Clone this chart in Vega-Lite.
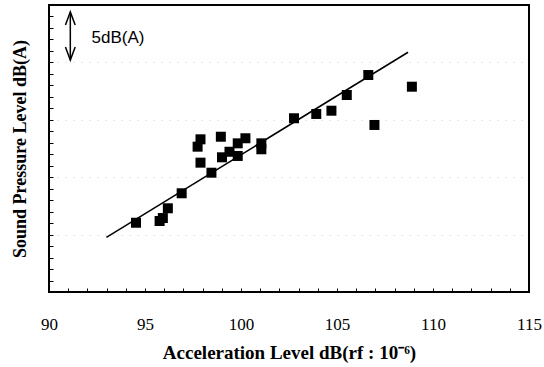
{
  "$schema": "https://vega.github.io/schema/vega-lite/v6.json",
  "autosize": {"type": "none"},
  "width": 480,
  "height": 287,
  "padding": {"left": 49, "top": 5, "right": 15, "bottom": 75},
  "background": "white",
  "config": {
    "view": {"stroke": "black", "strokeWidth": 2},
    "axis": {"labelColor": "black", "titleColor": "black", "tickColor": "black", "labelFont": "Liberation Serif", "titleFont": "Liberation Serif"}
  },
  "datasets": {
    "points": [
      {"x": 94.53, "y": 7.24}, {"x": 95.76, "y": 7.42}, {"x": 95.93, "y": 7.73},
      {"x": 96.19, "y": 8.75}, {"x": 96.91, "y": 10.32}, {"x": 97.74, "y": 15.19},
      {"x": 97.89, "y": 15.96}, {"x": 97.89, "y": 13.52}, {"x": 98.46, "y": 12.47},
      {"x": 98.95, "y": 16.23}, {"x": 99.01, "y": 14.08}, {"x": 99.40, "y": 14.66},
      {"x": 99.83, "y": 14.22}, {"x": 99.83, "y": 15.54}, {"x": 100.23, "y": 16.07},
      {"x": 101.06, "y": 15.54}, {"x": 101.06, "y": 14.92}, {"x": 102.76, "y": 18.16},
      {"x": 103.92, "y": 18.61}, {"x": 104.71, "y": 18.95}, {"x": 105.51, "y": 20.59},
      {"x": 106.63, "y": 22.68}, {"x": 106.95, "y": 17.46}, {"x": 108.90, "y": 21.46}
    ],
    "fit": [{"x": 92.99, "y": 5.72}, {"x": 108.70, "y": 25.06}],
    "bar": [{"x": 91.11, "y": 29.27, "yb": 24.25}],
    "heads": [{"x": 91.11, "y": 29.27, "dir": "up"}, {"x": 91.11, "y": 24.25, "dir": "down"}],
    "label": [{"x": 92.22, "y": 26.6, "text": "5dB(A)"}]
  },
  "encoding": {
    "x": {
      "field": "x", "type": "quantitative",
      "scale": {"domain": [90, 115], "nice": false, "zero": false},
      "axis": {
        "title": "Acceleration Level dB(rf : 10⁻⁶)",
        "values": [90,91,92,93,94,95,96,97,98,99,100,101,102,103,104,105,106,107,108,109,110,111,112,113,114,115],
        "labelExpr": "datum.value % 5 === 0 ? datum.label : ''",
        "labelFlush": false, "labelOverlap": false,
        "tickSize": -4, "tickWidth": 1,
        "domain": false, "grid": false,
        "labelFont": "Liberation Serif", "labelFontSize": 17, "labelBaseline": "alphabetic", "labelPadding": 41,
        "titleFont": "Liberation Serif", "titleFontWeight": "bold", "titleFontSize": 19,
        "titleBaseline": "alphabetic", "titleY": 66
      }
    },
    "y": {
      "field": "y", "type": "quantitative",
      "scale": {"domain": [0, 30], "nice": false, "zero": false},
      "axis": {
        "title": "Sound Pressure Level dB(A)",
        "values": [0,1.2,2.4,3.6,4.8,6,7.2,8.4,9.6,10.8,12,13.2,14.4,15.6,16.8,18,19.2,20.4,21.6,22.8,24,25.2,26.4,27.6,28.8,30],
        "labels": false,
        "tickSize": -4, "tickWidth": 1,
        "domain": false, "grid": true,
        "gridColor": "#999999", "gridDash": [1, 7], "gridWidth": 1,
        "gridOpacity": {"condition": {"test": "datum.value == 6 || datum.value == 12 || datum.value == 18 || datum.value == 24", "value": 0.45}, "value": 0},
        "titleFont": "Liberation Serif", "titleFontWeight": "bold", "titleFontSize": 18,
        "titleAngle": -90, "titleBaseline": "middle", "titleX": -29, "titleY": 143.5
      }
    }
  },
  "layer": [
    {
      "data": {"name": "fit"},
      "mark": {"type": "line", "color": "black", "strokeWidth": 1.5}
    },
    {
      "data": {"name": "points"},
      "mark": {"type": "point", "shape": "square", "filled": true, "color": "black", "size": 100, "opacity": 1}
    },
    {
      "data": {"name": "bar"},
      "mark": {"type": "rule", "color": "black", "strokeWidth": 1.5},
      "encoding": {"y2": {"field": "yb"}}
    },
    {
      "data": {"name": "heads"},
      "mark": {"type": "point", "filled": false, "color": "black", "strokeWidth": 1.5, "size": 169, "opacity": 1},
      "encoding": {
        "shape": {
          "field": "dir", "type": "nominal", "legend": null,
          "scale": {"domain": ["up", "down"], "range": ["M -0.75 2 L 0 0 L 0.75 2", "M -0.75 -2 L 0 0 L 0.75 -2"]}
        }
      }
    },
    {
      "data": {"name": "label"},
      "mark": {"type": "text", "align": "left", "baseline": "middle", "font": "Liberation Sans", "fontSize": 17, "color": "black"},
      "encoding": {"text": {"field": "text"}}
    }
  ]
}
